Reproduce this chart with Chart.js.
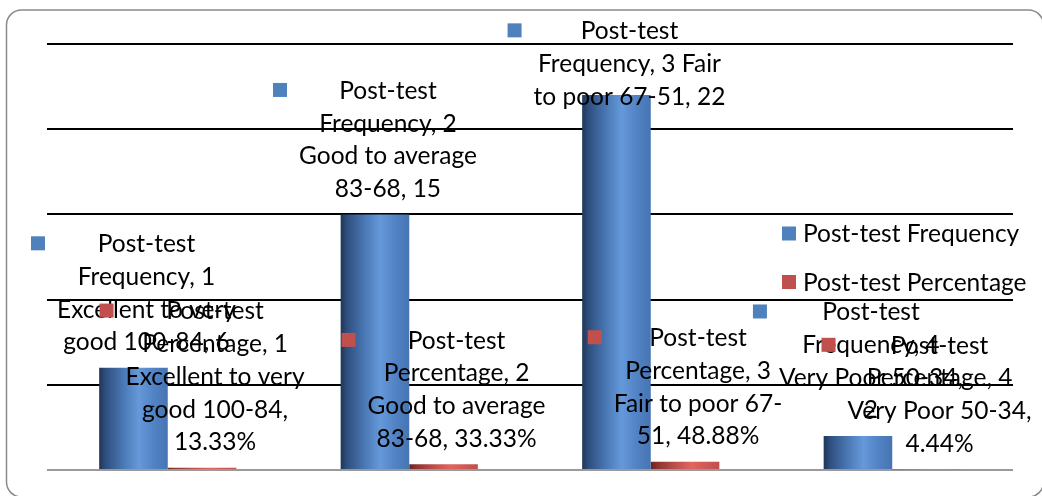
<!DOCTYPE html>
<html lang="en">
<head>
    <meta charset="UTF-8">
    <title>Post-test</title>
    <script src="https://cdn.jsdelivr.net/npm/chart.js"></script>
    <style>
        body{
            margin: 0;
            background: #fff;
            overflow: hidden;
        }
        #wrap{
            width: 1042px;
            height: 496px;
        }
    </style>
</head>
<body>
    <div id="wrap"><canvas id="grafik"></canvas></div>

    <script>
        const categories = ["1 Excellent to very good 100-84", "2 Good to average 83-68", "3 Fair to poor 67-51", "4 Very Poor 50-34"];
        const seriesNames = ["Post-test Frequency", "Post-test Percentage"];
        const freqValues = [6, 15, 22, 2];
        const pctValues = [0.1333, 0.3333, 0.4888, 0.0444];
        const yTicks = [0, 5, 10, 15, 20, 25];

        // data label text, wrapped the way the original chart wraps it
        const freqLabelLines = [
            ["Post-test", "Frequency, 1", "Excellent to very", "good 100-84, 6"],
            ["Post-test", "Frequency, 2", "Good to average", "83-68, 15"],
            ["Post-test", "Frequency, 3 Fair", "to poor 67-51, 22"],
            ["Post-test", "Frequency, 4", "Very Poor 50-34,", "2"]
        ];
        const pctLabelLines = [
            ["Post-test", "Percentage, 1", "Excellent to very", "good 100-84,", "13.33%"],
            ["Post-test", "Percentage, 2", "Good to average", "83-68, 33.33%"],
            ["Post-test", "Percentage, 3", "Fair to poor 67-", "51, 48.88%"],
            ["Post-test", "Percentage, 4", "Very Poor 50-34,", "4.44%"]
        ];
        const labelLines = [freqLabelLines, pctLabelLines];

        const keyColors = ["#4f81bd", "#c0504d"];
        const fontCss = "24.5px Lato";
        const lineH = 32.7;
        const catPct = 0.568;

        // cylinder look, dark left edge -> light middle -> medium right
        const barStops = [
            [[0, "#1f3657"], [0.1, "#2f5080"], [0.35, "#4a78b4"], [0.58, "#6699da"], [0.78, "#5384c5"], [1, "#4674b3"]],
            [[0, "#6a2421"], [0.1, "#8e3330"], [0.38, "#c2514c"], [0.6, "#e0655f"], [0.8, "#d05a55"], [1, "#c04e4a"]]
        ];

        function barFill(c, k){
            const chart = c.chart
            const xs = chart.scales.x
            if (!xs || c.dataIndex === undefined || !chart.chartArea) return keyColors[k]
            const barW = xs.width / categories.length * catPct / 2
            const left = xs.getPixelForValue(c.dataIndex) - barW + k * barW
            const g = chart.ctx.createLinearGradient(left, 0, left + barW, 0)
            barStops[k].forEach(s => g.addColorStop(s[0], s[1]))
            return g
        }

        const framePlugin = {
            id: "frame",
            beforeDraw(chart){
                const ctx = chart.ctx
                ctx.save()
                ctx.fillStyle = "#fff"
                ctx.fillRect(0, 0, chart.width, chart.height)
                ctx.strokeStyle = "#8a8a8a"
                ctx.lineWidth = 1.5
                ctx.beginPath()
                ctx.roundRect(6.5, 10, 1037, 487, 15)
                ctx.stroke()
                ctx.restore()
            }
        };

        const labelPlugin = {
            id: "barLabels",
            afterDatasetsDraw(chart){
                const ctx = chart.ctx
                ctx.save()
                ctx.font = fontCss
                ctx.textAlign = "center"
                ctx.textBaseline = "middle"
                chart.data.datasets.forEach((ds, di) => {
                    const meta = chart.getDatasetMeta(di)
                    meta.data.forEach((el, i) => {
                        const lines = labelLines[di][i]
                        const w = Math.max(...lines.map(l => ctx.measureText(l).width))
                        const left = el.x - (14 + 12 + w) / 2
                        let top = el.y - 10 - lines.length * lineH
                        if (top < 14) top = 14
                        ctx.fillStyle = keyColors[di]
                        ctx.fillRect(left, top + lineH / 2 - 7, 14, 14)
                        ctx.fillStyle = "#000"
                        lines.forEach((l, li) => {
                            ctx.fillText(l, left + 26 + w / 2, top + lineH * li + lineH / 2 + 1)
                        })
                    })
                })
                ctx.restore()
            }
        };

        const legendPlugin = {
            id: "sideLegend",
            afterDraw(chart){
                const ctx = chart.ctx
                const a = chart.chartArea
                ctx.save()
                ctx.font = fontCss
                ctx.textAlign = "left"
                ctx.textBaseline = "middle"
                chart.data.datasets.forEach((ds, di) => {
                    const x = a.right - 231
                    const y = a.top + 189.5 + di * 48.5
                    ctx.fillStyle = keyColors[di]
                    ctx.fillRect(x, y - 7, 14, 14)
                    ctx.fillStyle = "#000"
                    ctx.fillText(ds.label, x + 21, y + 1)
                })
                ctx.restore()
            }
        };

        new Chart(document.getElementById("grafik"), {
            type: "bar",
            data: {
                labels: categories,
                datasets: [
                    { label: seriesNames[0], data: freqValues, backgroundColor: c => barFill(c, 0), borderWidth: 0 },
                    { label: seriesNames[1], data: pctValues, backgroundColor: c => barFill(c, 1), borderWidth: 0 }
                ]
            },
            options: {
                responsive: true,
                maintainAspectRatio: false,
                animation: false,
                layout: { padding: { left: 47, top: 44, right: 29, bottom: 26 } },
                datasets: { bar: { categoryPercentage: catPct, barPercentage: 1 } },
                plugins: {
                    legend: { display: false },
                    tooltip: { enabled: false }
                },
                scales: {
                    x: { display: false },
                    y: {
                        min: 0,
                        max: 25,
                        afterBuildTicks: s => { s.ticks = yTicks.map(v => ({ value: v })) },
                        afterFit: s => { s.width = 0 },
                        ticks: { display: false },
                        border: { display: false },
                        grid: {
                            drawTicks: false,
                            lineWidth: 2,
                            color: c => c.tick && c.tick.value === 0 ? "#9a9a9a" : "#000"
                        }
                    }
                }
            },
            plugins: [framePlugin, labelPlugin, legendPlugin]
        });
    </script>
</body>
</html>
